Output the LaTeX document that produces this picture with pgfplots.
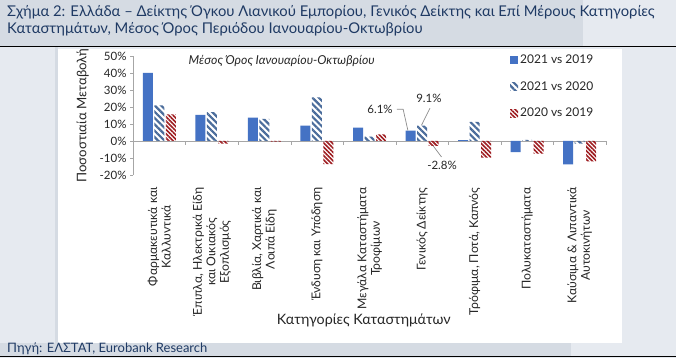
\documentclass[border=0pt]{standalone}
\usepackage{fontspec}
\setmainfont{Lato}
\usepackage{pgfplots}
\pgfplotsset{compat=1.18}
\usetikzlibrary{patterns.meta}
\definecolor{bgL}{HTML}{E6EAF0}
\definecolor{bgD}{HTML}{D5DBE3}
\definecolor{navy}{HTML}{1F3A64}
\definecolor{bblue}{HTML}{4472C4}
\definecolor{hblue}{HTML}{4A6C9B}
\definecolor{hred}{HTML}{9E1C20}
\definecolor{axgray}{HTML}{A6A6A6}
\definecolor{txt}{HTML}{262626}
\definecolor{lead}{HTML}{8C8C8C}
\pgfplotsset{mylegend/.style={legend image code/.code={\path[##1] (0pt,-4pt) rectangle (8pt,4pt);}}}
\begin{document}
\begin{tikzpicture}[x=1pt,y=1pt]
\path[use as bounding box] (0,0) rectangle (676,358);
\fill[bgL] (0,0) rectangle (676,358);
\fill[bgD] (0,311) rectangle (583,358);
\fill[bgD] (0,2) rectangle (571,15);
\fill[bgD] (55,15) rectangle (58,311);
\fill[white] (58,15) rectangle (622,309);
\draw[black,line width=1pt] (0,311) -- (676,311);
\draw[black,line width=0.8pt] (0,1.5) -- (676,1.5);
\node[anchor=west, text=navy, font=\fontsize{14.8}{16}\selectfont, inner sep=0pt] at (7,346) {Σχήμα 2: Ελλάδα – Δείκτης Όγκου Λιανικού Εμπορίου, Γενικός Δείκτης και Επί Μέρους Κατηγορίες};
\node[anchor=west, text=navy, font=\fontsize{14.8}{16}\selectfont, inner sep=0pt] at (7,329) {Καταστημάτων, Μέσος Όρος Περιόδου Ιανουαρίου-Οκτωβρίου};
\node[anchor=west, text=navy, font=\fontsize{13}{14}\selectfont, inner sep=0pt] at (7,9) {Πηγή: ΕΛΣΤΑΤ, Eurobank Research};
\begin{axis}[
  at={(133pt,183pt)}, anchor=south west, scale only axis,
  width=473pt, height=119pt,
  xmin=-0.5, xmax=8.5, ymin=-20, ymax=50,
  axis y line=left, axis x line=middle,
  axis line style={axgray, -},
  tick align=outside, major tick length=3pt, minor tick length=4pt,
  ytick={-20,-10,...,50},
  yticklabel={\pgfmathprintnumber{\tick}\%},
  /pgf/number format/assume math mode=true,
  y tick label style={font=\fontsize{11.5}{13}\selectfont, text=txt},
  ytick style={axgray},
  xtick={0,...,8},
  xticklabels={{Φαρμακευτικά και\\Καλλυντικά},{Έπιπλα, Ηλεκτρικά Είδη\\και Οικιακός\\Εξοπλισμός},{Βιβλία, Χαρτικά και\\Λοιπά Είδη},{Ένδυση και Υπόδηση},{Μεγάλα Καταστήματα\\Τροφίμων},{Γενικός Δείκτης},{Τρόφιμα, Ποτά, Καπνός},{Πολυκαταστήματα},{Καύσιμα \& Λιπαντικά\\Αυτοκινήτων}},
  major x tick style={draw=none},
  minor xtick={-0.5,0.5,...,8.5},
  minor x tick style={axgray},
  xticklabel style={rotate=90, anchor=east, align=center, font=\fontsize{12.2}{13.5}\selectfont, text=txt},
  xticklabel shift=40pt,
  ybar=1.5pt, bar width=10pt,
  xlabel={Κατηγορίες Καταστημάτων},
  xlabel style={at={(rel axis cs:0.488,0)}, anchor=center, yshift=-145pt, font=\fontsize{14.3}{15}\selectfont, text=txt},
  ylabel={Ποσοστιαία Μεταβολή},
  ylabel style={font=\fontsize{13.2}{15}\selectfont, text=txt},
  ylabel shift=4pt,
  legend style={at={(0.797,1.03)}, anchor=north west, draw=none, fill=none, font=\fontsize{12}{14}\selectfont, text=txt, row sep=12.5pt, inner sep=0pt},
  legend cell align=left,
  clip=false,
]
\addplot[draw=none, fill=bblue, mylegend] coordinates {(0,40.1) (1,15.4) (2,13.7) (3,9.0) (4,7.8) (5,6.1) (6,0.5) (7,-6.5) (8,-13.7)};
\addplot[draw=none, pattern={Lines[angle=-45,distance=4.5pt,line width=2.2pt]}, pattern color=hblue, mylegend] coordinates {(0,21) (1,17) (2,13) (3,25.7) (4,2.6) (5,9.1) (6,11.2) (7,0.6) (8,-1.5)};
\addplot[draw=none, pattern={Lines[angle=-45,distance=3pt,line width=1.6pt]}, pattern color=hred, mylegend] coordinates {(0,15.7) (1,-1.5) (2,-0.4) (3,-13.6) (4,3.9) (5,-2.8) (6,-9.8) (7,-7.4) (8,-12)};
\legend{2021 vs 2019, 2021 vs 2020, 2020 vs 2019}
\node[font=\itshape\fontsize{12.3}{14}\selectfont, text=txt] at (axis cs:2.33,47) {Μέσος Όρος Ιανουαρίου-Οκτωβρίου};
\draw[lead, line width=0.7pt] (axis cs:4.52,18.7) -- (axis cs:4.64,18.7) -- (axis cs:4.73,6.3);
\draw[lead, line width=0.7pt] (axis cs:5.15,19.3) -- (axis cs:4.99,9.3);
\draw[lead, line width=0.7pt] (axis cs:5.37,-9.4) -- (axis cs:5.21,-2.8);
\node[font=\fontsize{11.5}{13}\selectfont, text=txt] at (axis cs:4.20,18.7) {6.1\%};
\node[font=\fontsize{11.5}{13}\selectfont, text=txt] at (axis cs:5.13,25.2) {9.1\%};
\node[font=\fontsize{11.5}{13}\selectfont, text=txt] at (axis cs:5.38,-14.3) {-2.8\%};
\end{axis}
\end{tikzpicture}
\end{document}
